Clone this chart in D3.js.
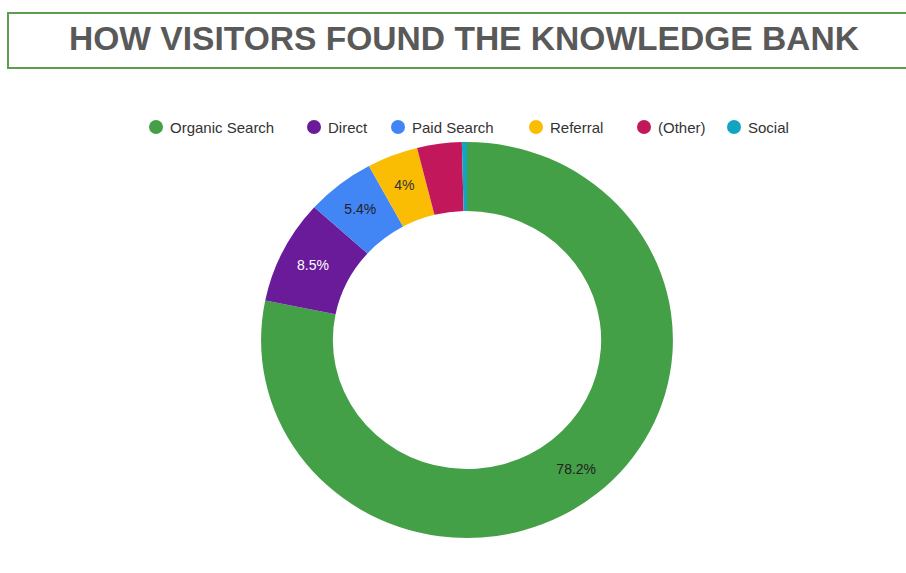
<!DOCTYPE html>
<html>
<head>
<meta charset="utf-8">
<script src="https://cdn.jsdelivr.net/npm/d3@7"></script>
<style>
body{margin:0;background:#fff;}
svg{display:block;}
</style>
</head>
<body>
<svg id="chart" width="906" height="573"></svg>
<script>
const categories = ["Organic Search","Direct","Paid Search","Referral","(Other)","Social"];
const values = [78.2, 8.5, 5.4, 4.0, 3.5, 0.4];
const colors = ["#43a047","#6a1b9a","#4285f4","#fbbc04","#c2185b","#12a4c1"];
const labelColors = ["#222","#fff","#222","#333","#fff","#fff"];
const titleText = "HOW VISITORS FOUND THE KNOWLEDGE BANK";

const svg = d3.select("#chart");

// Title box
svg.append("rect").attr("x",8).attr("y",13).attr("width",910).attr("height",55)
  .attr("fill","#fff").attr("stroke","#5a9e4e").attr("stroke-width",2);
svg.append("text").attr("x",464).attr("y",50).attr("text-anchor","middle")
  .attr("font-family","'Liberation Sans',Arial,sans-serif")
  .attr("font-weight","bold").attr("font-size",34).attr("fill","#595959")
  .attr("textLength",790).attr("lengthAdjust","spacingAndGlyphs")
  .text(titleText);

// Legend
const legendX = [156, 314, 398, 536, 644, 734];
const legend = svg.append("g").attr("font-family","'Liberation Sans',Arial,sans-serif").attr("font-size",15);
categories.forEach((c,i)=>{
  legend.append("circle").attr("cx",legendX[i]).attr("cy",127).attr("r",7).attr("fill",colors[i]);
  legend.append("text").attr("x",legendX[i]+14).attr("y",132.5).attr("fill","#333").text(c);
});

// Donut
const cx = 467, cy = 340, R = 198, r0 = 129;
const g = svg.append("g").attr("transform",`translate(${cx},${cy}) scale(1.04,1)`);
const pie = d3.pie().sort(null).value(d=>d)(values);
const arc = d3.arc().innerRadius(r0).outerRadius(R);
g.selectAll("path").data(pie).enter().append("path")
  .attr("d",arc).attr("fill",(d,i)=>colors[i]).attr("stroke","none");

const labelArc = d3.arc().innerRadius(166).outerRadius(166);
const total = d3.sum(values);
const fmt = v => (Math.round(v*10)/10).toString() + "%";
pie.forEach((d,i)=>{
  if (values[i]/total < 0.0395) return;
  const [x,y] = labelArc.centroid(d);
  svg.append("text").attr("x",cx + x*1.04).attr("y",cy + y + 5)
    .attr("text-anchor","middle")
    .attr("font-family","'Liberation Sans',Arial,sans-serif").attr("font-size",14)
    .attr("fill",labelColors[i]).text(fmt(values[i]));
});
</script>
</body>
</html>
